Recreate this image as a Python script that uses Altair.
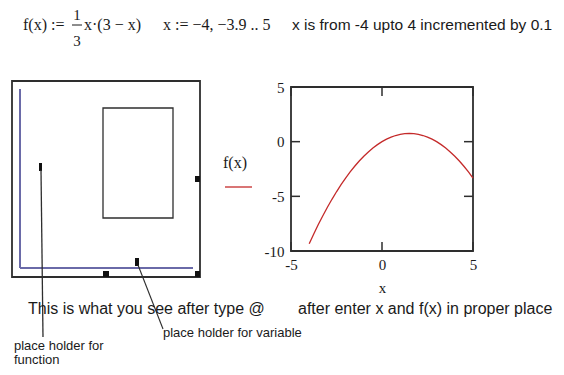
import altair as alt
import pandas as pd

# ---- data ----
x_vals = [-4, -3.75, -3.5, -3.25, -3, -2.75, -2.5, -2.25, -2, -1.75, -1.5, -1.25,
          -1, -0.75, -0.5, -0.25, 0, 0.25, 0.5, 0.75, 1, 1.25, 1.5, 1.75, 2,
          2.25, 2.5, 2.75, 3, 3.25, 3.5, 3.75, 4, 4.25, 4.5, 4.75, 5]
f_vals = [-9.333, -8.438, -7.583, -6.771, -6.0, -5.271, -4.583, -3.938, -3.333,
          -2.771, -2.25, -1.771, -1.333, -0.938, -0.583, -0.271, 0.0, 0.229,
          0.417, 0.563, 0.667, 0.729, 0.75, 0.729, 0.667, 0.563, 0.417, 0.229,
          0.0, -0.271, -0.583, -0.938, -1.333, -1.771, -2.25, -2.771, -3.333]
x_tick_vals = [-5, 0, 5]
y_tick_vals = [-10, -5, 0, 5]
x_domain = [-5, 5]
y_domain = [-10, 5]

# ---- layout ----
W, H = 182, 164          # plot area
OX, OY = 291, 87         # page position of plot area
PAD = {"left": OX - 8, "top": OY - 8, "right": 548 - (OX - 8) - W, "bottom": 359 - (OY - 8) - H}

SERIF = "Liberation Serif"
SANS = "Liberation Sans"
TXT = "#1a1a1a"
FRAME = "#2e2e2e"
RED = "#c42a2a"
BLUE = "#6a6aa8"
LBL = "datum.value < 0 ? '-' + abs(datum.value) : '' + datum.value"


def px(X):
    return X - OX


def py(Y):
    return Y - OY


one = pd.DataFrame({"k": [0]})

xscale = alt.Scale(domain=x_domain, nice=False, zero=False)
yscale = alt.Scale(domain=y_domain, nice=False, zero=False)
xenc = alt.X("x:Q", scale=xscale,
             axis=alt.Axis(values=x_tick_vals, ticks=False, domain=False, grid=False,
                           labelFlush=False, labelFont=SERIF, labelFontSize=15,
                           labelColor=TXT, labelPadding=6, labelExpr=LBL, title="x",
                           titleFont=SERIF, titleFontSize=15, titleFontWeight="normal",
                           titleColor=TXT, titlePadding=8))
yenc = alt.Y("y:Q", scale=yscale,
             axis=alt.Axis(values=y_tick_vals, ticks=False, domain=False, grid=False,
                           labelFlush=False, labelFont=SERIF, labelFontSize=15,
                           labelColor=TXT, labelPadding=7, labelExpr=LBL, title=None))

df = pd.DataFrame({"x": x_vals, "y": f_vals})
curve = alt.Chart(df).mark_line(color=RED, strokeWidth=1.3).encode(x=xenc, y=yenc)

tx = pd.DataFrame({"x": x_tick_vals})
ty = pd.DataFrame({"y": y_tick_vals})
TL = 9
ticks = [
    alt.Chart(tx).mark_rule(color=FRAME, strokeWidth=1.5).encode(x=xenc, y=alt.value(H), y2=alt.value(H - TL)),
    alt.Chart(tx).mark_rule(color=FRAME, strokeWidth=1.5).encode(x=xenc, y=alt.value(0), y2=alt.value(TL)),
    alt.Chart(ty).mark_rule(color=FRAME, strokeWidth=1.5).encode(y=yenc, x=alt.value(0), x2=alt.value(TL)),
    alt.Chart(ty).mark_rule(color=FRAME, strokeWidth=1.5).encode(y=yenc, x=alt.value(W), x2=alt.value(W - TL)),
]


def txt(s, X, Y, font=SANS, size=16, align="left"):
    return alt.Chart(one).mark_text(text=s, font=font, fontSize=size, align=align,
                                    baseline="middle", color=TXT).encode(
        x=alt.value(px(X)), y=alt.value(py(Y)))


def seg(X1, Y1, X2, Y2, color=FRAME, w=1.2):
    return alt.Chart(one).mark_rule(color=color, strokeWidth=w).encode(
        x=alt.value(px(X1)), y=alt.value(py(Y1)), x2=alt.value(px(X2)), y2=alt.value(py(Y2)))


def box(X1, Y1, X2, Y2, w=1.5, filled=False):
    if filled:
        m = alt.Chart(one).mark_rect(color="#111111")
    else:
        m = alt.Chart(one).mark_rect(fillOpacity=0, stroke=FRAME, strokeWidth=w)
    return m.encode(x=alt.value(px(X1)), y=alt.value(py(Y1)),
                    x2=alt.value(px(X2)), y2=alt.value(py(Y2)))


deco = [
    # top formula row
    txt("f(x) :=", 23, 25, SERIF, 16),
    txt("1", 77, 15, SERIF, 15, "center"),
    seg(72, 25, 82, 25, TXT, 1),
    txt("3", 77, 41, SERIF, 15, "center"),
    txt("x·(3 − x)", 84, 25, SERIF, 16),
    txt("x := −4, −3.9 .. 5", 163, 25, SERIF, 16),
    txt("x is from -4 upto 4 incremented by 0.1", 292, 25, SANS, 15.5),
    # placeholder plot (left)
    box(12, 81, 200, 277, 1.8),
    box(103, 108, 173, 218, 1.3),
    seg(20, 89, 20, 268, BLUE, 2),
    seg(20, 268, 193, 268, BLUE, 2),
    box(195, 176, 200, 182, filled=True),
    box(103, 271, 109, 277, filled=True),
    box(195, 271, 200, 277, filled=True),
    box(39, 163, 42, 171, filled=True),
    box(135, 258, 139, 266, filled=True),
    seg(41, 170, 43, 337, FRAME, 1.3),
    seg(138, 265, 163, 329, FRAME, 1.1),
    # legend of the real plot
    txt("f(x)", 235, 163, SERIF, 16, "center"),
    seg(225, 187, 252, 187, RED, 1.3),
    # captions
    txt("This is what you see after type @", 28, 309, SANS, 16),
    txt("after enter x and f(x) in proper place", 298, 309, SANS, 16),
    txt("place holder for variable", 163, 333, SANS, 13),
    txt("place holder for", 14, 346, SANS, 13),
    txt("function", 14, 360, SANS, 13),
]

chart = alt.layer(curve, *ticks, *deco).properties(
    width=W, height=H,
    autosize=alt.AutoSizeParams(type="none"),
    padding=PAD,
    background="white",
).configure_view(stroke=FRAME, strokeWidth=1.8).configure_axis(grid=False)

chart.save("out.html", embed_options={"renderer": "svg", "actions": False})
